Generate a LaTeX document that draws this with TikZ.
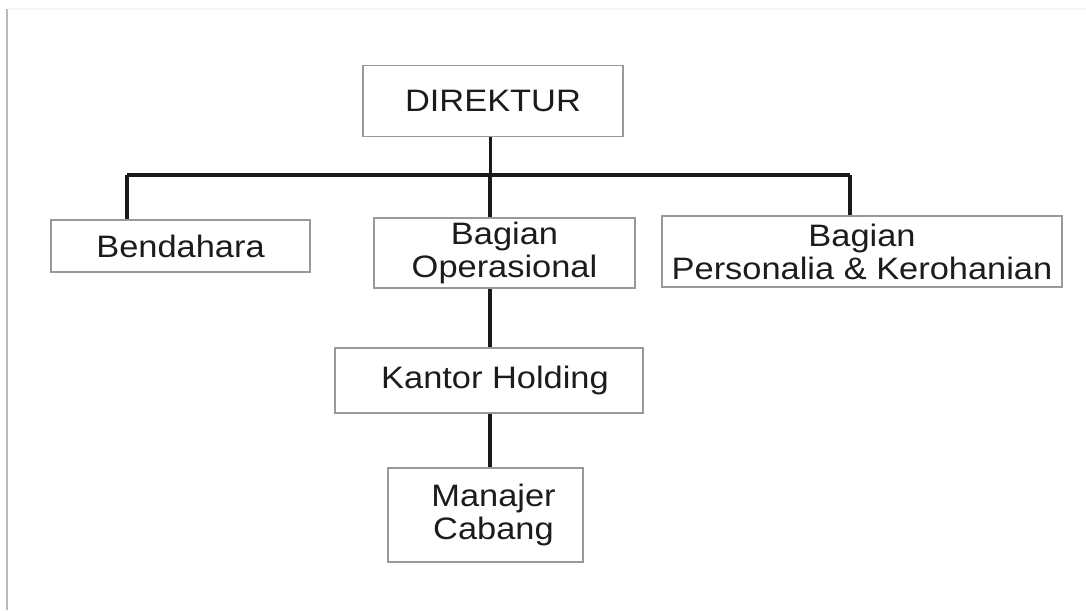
\documentclass[tikz,border=0pt]{standalone}
\usepackage{fontspec}
\newfontfamily\boxfont[FakeStretch=1.11]{Liberation Sans}
\definecolor{txt}{HTML}{1C1C1C}
\definecolor{frame}{HTML}{999999}
\begin{document}
\begin{tikzpicture}[x=1pt,y=-1pt,
  orgbox/.style={draw=frame, line width=1.3pt, inner sep=0pt, align=center,
    text=txt, font=\boxfont\fontsize{31}{33}\selectfont},
  conn/.style={draw=black!90, line width=3.6pt},
  busline/.style={draw=black!90, line width=4.6pt, line join=miter}]
\useasboundingbox (0,0) rectangle (1086,610);
\fill[white] (0,0) rectangle (1086,610);
% faint page frame
\draw[gray!55, line width=2pt] (7,9) -- (7,610);
\draw[gray!8, line width=1.5pt] (8,9) -- (1086,9);
% boxes
\node[orgbox, minimum width=260pt, minimum height=71pt] (dir) at (493,101) {DIREKTUR};
\node[orgbox, minimum width=259pt, minimum height=52pt] (ben) at (180.5,246) {Bendahara};
\node[orgbox, minimum width=261pt, minimum height=70pt] (ops) at (504.5,253) {Bagian\\Operasional};
\node[orgbox, minimum width=400pt, minimum height=71pt] (per) at (862,251.5) {Bagian\\Personalia \& Kerohanian};
\node[orgbox, minimum width=308pt, minimum height=65pt] (kh) at (489,380.5) {\hspace*{12pt}Kantor Holding};
\node[orgbox, minimum width=195pt, minimum height=94pt] (mc) at (485.5,515) {\hspace*{16pt}Manajer\\\hspace*{16pt}Cabang};
% bus coordinates
\coordinate (busL) at (127,175);
\coordinate (busM) at (490,175);
\coordinate (busR) at (850,175);
% connectors
\draw[conn, line width=3pt] (busM |- dir.south) -- (busM);
\draw[busline] (busL) -- (busR);
\draw[conn] (busL) -- (busL |- ben.north);
\draw[conn] (busR) -- (busR |- per.north);
\draw[conn] (busM) -- (busM |- ops.north);
\draw[conn] (busM |- ops.south) -- (busM |- kh.north);
\draw[conn] (busM |- kh.south) -- (busM |- mc.north);
\end{tikzpicture}
\end{document}
